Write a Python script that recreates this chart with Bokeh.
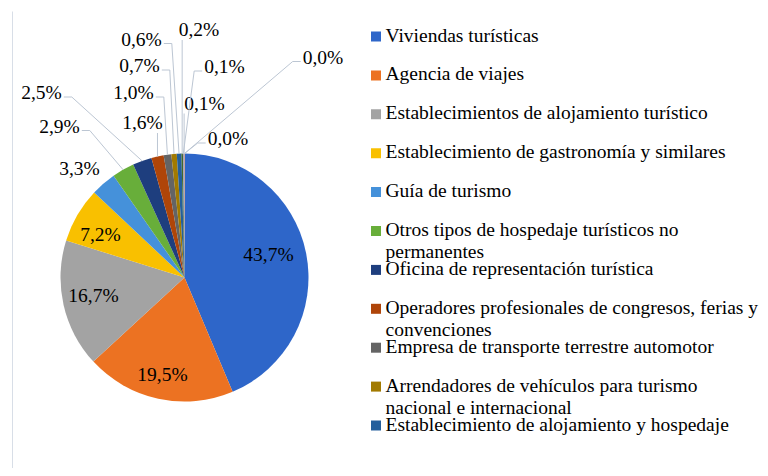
import math
from bokeh.plotting import figure
from bokeh.models import Range1d, ColumnDataSource
from bokeh.embed import file_html
from bokeh.resources import INLINE
from bokeh.core.properties import value

# ---------------- data ----------------
legend_labels = [
    "Viviendas turísticas",
    "Agencia de viajes",
    "Establecimientos de alojamiento turístico",
    "Establecimiento de gastronomía y similares",
    "Guía de turismo",
    "Otros tipos de hospedaje turísticos no\npermanentes",
    "Oficina de representación turística",
    "Operadores profesionales de congresos, ferias y\nconvenciones",
    "Empresa de transporte terrestre automotor",
    "Arrendadores de vehículos para turismo\nnacional e internacional",
    "Establecimiento de alojamiento y hospedaje",
]
values = [43.7, 19.5, 16.7, 7.2, 3.3, 2.9, 2.5, 1.6, 1.0, 0.7, 0.6, 0.2, 0.1, 0.1, 0.0, 0.0]
colors = ["#2E66C9", "#EC7222", "#A3A3A3", "#F9C000", "#4591DA", "#68AE3A",
          "#1E3E7E", "#AF4509", "#646464", "#A27A00", "#245F9C", "#43682B",
          "#698ED0", "#F1975A", "#B7B7B7", "#FFCD33"]

# ---------------- layout (pixel positions in the picture) ----------------
W, H = 760, 468
CX, CY, R = 184, 277, 124
label_pos = [(268, 255), (162, 375), (93, 296), (100, 235), (79, 169), (59, 127),
             (41, 93.5), (142, 123.5), (133, 93.5), (139, 66.5), (141, 40),
             (198.5, 30.5), (224, 67.5), (204, 104), (227.5, 139.5), (322.5, 58)]
FONT = value("Liberation Serif")
FS = 19.5
TXT = "#000000"
LINE_C = "#BCC6D3"
TEXT_DY = -1.5   # vertical nudge of text centres


def fy(Y):
    return 476 - Y


p = figure(width=W, height=H, x_range=Range1d(0, W), y_range=Range1d(8, 476),
           output_backend="svg", toolbar_location=None, min_border=0,
           x_axis_location=None, y_axis_location=None)
p.grid.visible = False
p.outline_line_color = None
p.background_fill_color = "white"
p.border_fill_color = "white"

# faint chart-area border on the left
p.segment(x0=[12], y0=[fy(11)], x1=[12], y1=[fy(476)], line_color="#D8DEE7", line_width=1)

# ---------------- pie ----------------
total = sum(values)
starts, ends, mids = [], [], []
cum = 0.0
for v in values:
    f0 = cum / total
    cum += v
    f1 = cum / total
    starts.append(math.pi / 2 - 2 * math.pi * f0)
    ends.append(math.pi / 2 - 2 * math.pi * f1)
    mids.append((f0 + f1) / 2)

idx = [i for i, v in enumerate(values) if v > 0]
src = ColumnDataSource(dict(
    start=[starts[i] for i in idx], end=[ends[i] for i in idx],
    color=[colors[i] for i in idx]))
p.wedge(x=CX, y=fy(CY), radius=R, start_angle="start", end_angle="end",
        direction="clock", fill_color="color", line_color=None, source=src)

# ---------------- labels & leader lines ----------------
def fmt(v):
    return ("%.1f" % v).replace(".", ",") + "%"


def text_width(s):
    w = 0
    for ch in s:
        w += 0.25 if ch == "," else (0.833 if ch == "%" else 0.5)
    return w * FS


lab_txt = [fmt(v) for v in values]
lx = [q[0] for q in label_pos]
ly = [fy(q[1] + TEXT_DY) for q in label_pos]
p.text(x=lx, y=ly, text=lab_txt, text_align="center", text_baseline="middle",
       text_font=FONT, text_font_size=f"{FS}px", text_color=TXT)

xs, ys = [], []
for i, v in enumerate(values):
    if i < 4:
        continue
    th = 2 * math.pi * mids[i]
    ax = CX + R * math.sin(th)
    ay = CY - R * math.cos(th)
    x, y = label_pos[i]
    hw = text_width(lab_txt[i]) / 2
    left, right, top, bot = x - hw, x + hw, y - 7, y + 7
    dx = max(left - ax, 0, ax - right)
    dy = max(top - ay, 0, ay - bot)
    if math.hypot(dx, dy) < 12:
        continue
    if ax > right + 4:
        pts = [(right + 2, y + 3), (right + 10, y + 3), (ax, ay)]
    elif ax < left - 4:
        pts = [(left - 2, y + 3), (left - 10, y + 3), (ax, ay)]
    else:
        pts = [(ax, bot + 2), (ax, ay)]
    xs.append([q[0] for q in pts])
    ys.append([fy(q[1]) for q in pts])
p.multi_line(xs=xs, ys=ys, line_color=LINE_C, line_width=1)

# ---------------- legend ----------------
sq_x, sq_y, sq_c = [], [], []
t_x, t_y, t_s = [], [], []
for i, lab in enumerate(legend_labels):
    row = 36 + 38.9 * i
    sq_x.append(375.5)
    sq_y.append(fy(row))
    sq_c.append(colors[i])
    for k, line in enumerate(lab.split("\n")):
        t_x.append(385)
        t_y.append(fy(row + TEXT_DY + 22 * k))
        t_s.append(line)
p.rect(x=sq_x, y=sq_y, width=10, height=10, fill_color=sq_c, line_color=None)
p.text(x=t_x, y=t_y, text=t_s, text_align="left", text_baseline="middle",
       text_font=FONT, text_font_size=f"{FS}px", text_color=TXT)

open("out.html", "w").write(file_html(p, INLINE))
